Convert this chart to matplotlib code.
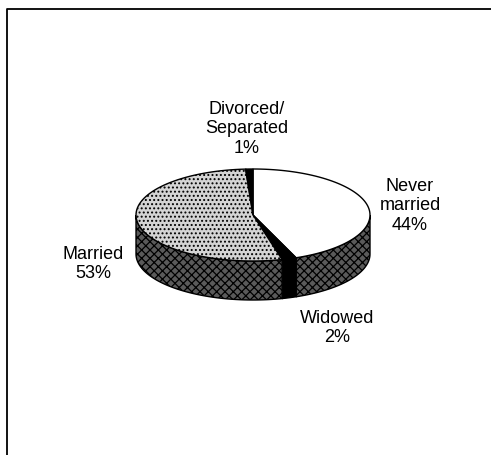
import numpy as np
import matplotlib
matplotlib.use("Agg")
import matplotlib.pyplot as plt
from matplotlib.patches import Polygon

plt.rcParams['font.family'] = ['Liberation Sans', 'DejaVu Sans']
plt.rcParams['hatch.linewidth'] = 0.9

# data (clockwise from 12 o'clock)
labels = ['Never\nmarried\n44%', 'Widowed\n2%', 'Married\n53%', 'Divorced/\nSeparated\n1%']
values = [44, 2, 53, 1]
top_colors = ['white', 'black', '#d4d4d4', 'black']
top_hatch = [None, None, '....', None]
side_colors = ['#5a5a5a', 'black', '#5a5a5a', 'black']
side_hatch = ['xxxx', None, 'xxxx', None]
label_pos = [(410, 206), (337, 328), (93, 264), (247, 129)]

# pie geometry in pixel units
cx, cy, a, b, depth = 253, 216, 117, 46, 39


def pts(t0, t1, dy=0.0, n=80):
    t = np.radians(np.linspace(t0, t1, n))
    return np.column_stack([cx + a * np.cos(t), cy - b * np.sin(t) + dy])


fig = plt.figure(figsize=(4.91, 4.56), dpi=100)
ax = fig.add_axes([0, 0, 1, 1])
ax.set_xlim(0, 491)
ax.set_ylim(456, 0)
ax.axis('off')

# frame
ax.plot([7, 7, 491], [456, 10, 10], color='black', lw=1.3)

fracs = np.array(values) / sum(values) * 360
starts = 90 - np.concatenate([[0], np.cumsum(fracs)[:-1]])
ends = starts - fracs

# sides (front half only: angles between -180 and 0)
for s, e, fc, h in zip(starts, ends, side_colors, side_hatch):
    hi, lo = min(s, 0), max(e, -180)
    if hi <= lo:
        continue
    top = pts(hi, lo)
    bot = pts(lo, hi, depth)
    ax.add_patch(Polygon(np.vstack([top, bot]), closed=True, facecolor=fc,
                         edgecolor='black', hatch=h, lw=1.0))

# tops
for s, e, fc, h in zip(starts, ends, top_colors, top_hatch):
    arc = pts(s, e)
    poly = np.vstack([[cx, cy], arc])
    ax.add_patch(Polygon(poly, closed=True, facecolor=fc, edgecolor='black',
                         hatch=h, lw=1.0))

for lab, (x, y) in zip(labels, label_pos):
    ax.text(x, y, lab, ha='center', va='center', fontsize=13, linespacing=1.2)

fig.savefig('out.png', dpi=100)
